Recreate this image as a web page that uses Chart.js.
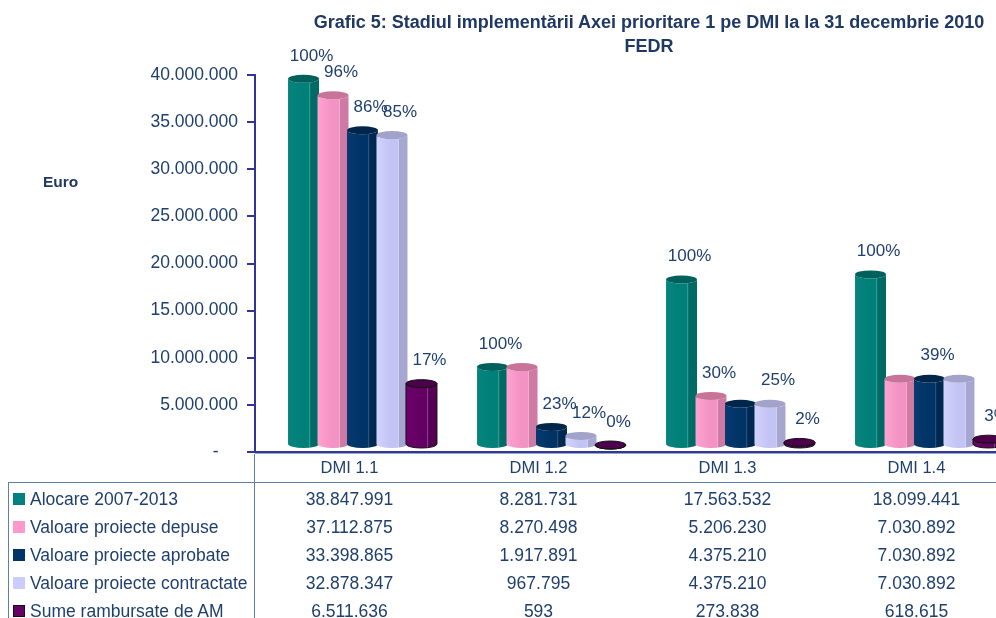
<!DOCTYPE html>
<html><head><meta charset="utf-8">
<script src="https://cdn.jsdelivr.net/npm/chart.js@4/dist/chart.umd.min.js"></script>
<style>
html,body{margin:0;padding:0;background:#fff;overflow:hidden;width:996px;height:618px;}
#wrap{position:relative;width:996px;height:618px;overflow:hidden;font-family:"Liberation Sans",Arial,sans-serif;color:#1f3f6f;}
canvas{position:absolute;left:0;top:0;}
.t{position:absolute;white-space:nowrap;}
.ln{position:absolute;background:#5f7fa6;}
</style></head><body><div id="wrap"><canvas id="c" width="1020" height="618"></canvas></div>
<script>
// ---- data ----
const categories = ['DMI 1.1', 'DMI 1.2', 'DMI 1.3', 'DMI 1.4'];
const seriesNames = ['Alocare 2007-2013', 'Valoare proiecte depuse', 'Valoare proiecte aprobate', 'Valoare proiecte contractate', 'Sume rambursate de AM'];
const alocare     = [38847991, 8281731, 17563532, 18099441];
const depuse      = [37112875, 8270498, 5206230, 7030892];
const aprobate    = [33398865, 1917891, 4375210, 7030892];
const contractate = [32878347, 967795, 4375210, 7030892];
const rambursate  = [6511636, 593, 273838, 618615];
// which percentage labels are shown on the picture
const shownAlocare     = [true, true, true, true];
const shownDepuse      = [true, false, true, false];
const shownAprobate    = [true, true, false, true];
const shownContractate = [true, true, true, false];
const shownRambursate  = [true, true, true, true];
const titleLine1 = 'Grafic 5: Stadiul implementării Axei prioritare 1 pe DMI la la 31 decembrie 2010';
const titleLine2 = 'FEDR';
const yAxisTitle = 'Euro';
const yMax = 40000000, yStep = 5000000;

const seriesValues = [alocare, depuse, aprobate, contractate, rambursate];
const seriesShown = [shownAlocare, shownDepuse, shownAprobate, shownContractate, shownRambursate];

// ---- styles ----
const TXT = '#1f3f6f';
const legendColors = ['#008080', '#ff99cc', '#003366', '#ccccff', '#660066'];
const cylStyles = [
  {left:'#07837d', mid:'#008078', right:'#006a65', hl:'#4aa9a4', top:'#00615c', stroke:null},
  {left:'#ffa2d2', mid:'#f293c3', right:'#cf7aa4', hl:'#ffc4e2', top:'#c87499', stroke:null},
  {left:'#073a6e', mid:'#003366', right:'#002952', hl:'#3a5f8a', top:'#00264c', stroke:null},
  {left:'#d2d2ff', mid:'#c4c4f4', right:'#a6a6d0', hl:'#e8e8ff', top:'#a2a2ca', stroke:null},
  {left:'#6c006c', mid:'#640064', right:'#540054', hl:'#9a4a9a', top:'#4c004c', stroke:'#111'}
];
const DX = 13, DY = -7, RY = 4;

function fmt(n){ return String(Math.round(n)).replace(/\B(?=(\d{3})+(?!\d))/g, '.'); }

function drawCyl(ctx, x, top, bottom, w, s){
  const rx = w/2;
  if (bottom < top) bottom = top;
  ctx.save();
  const g = ctx.createLinearGradient(x-rx, 0, x+rx, 0);
  g.addColorStop(0, s.left); g.addColorStop(0.45, s.mid); g.addColorStop(0.68, s.mid);
  g.addColorStop(0.70, s.hl); g.addColorStop(0.73, s.right); g.addColorStop(1, s.right);
  ctx.beginPath();
  ctx.moveTo(x-rx, top);
  ctx.lineTo(x-rx, bottom);
  ctx.ellipse(x, bottom, rx, RY, 0, Math.PI, 0, true);
  ctx.lineTo(x+rx, top);
  ctx.ellipse(x, top, rx, RY, 0, 0, Math.PI, false);
  ctx.closePath();
  ctx.fillStyle = g; ctx.fill();
  if (s.stroke){ ctx.strokeStyle = s.stroke; ctx.lineWidth = 1; ctx.stroke(); }
  // top cap
  ctx.beginPath();
  ctx.ellipse(x, top, rx, RY, 0, 0, Math.PI*2);
  ctx.fillStyle = s.top; ctx.fill();
  if (s.stroke){ ctx.strokeStyle = s.stroke; ctx.lineWidth = 1; ctx.stroke(); }
  ctx.restore();
}

const cylPlugin = {
  id: 'cyl',
  afterDatasetsDraw(chart){
    const ctx = chart.ctx, ca = chart.chartArea;
    // base line of the category axis
    ctx.save();
    ctx.fillStyle = '#2e3a92';
    ctx.fillRect(ca.left - 8, ca.bottom - 1, 1020, 2);
    ctx.fillStyle = '#9aa6d0';
    ctx.fillRect(ca.left, ca.bottom + 1, 1020, 1);
    ctx.restore();
    const nCat = categories.length;
    for (let j = 0; j < nCat; j++){
      for (let i = 0; i < chart.data.datasets.length; i++){
        const el = chart.getDatasetMeta(i).data[j];
        drawCyl(ctx, el.x + DX, el.y + DY, el.base + DY, el.width + 1.5, cylStyles[i]);
      }
    }
    ctx.save();
    ctx.font = '17px "Liberation Sans", Arial, sans-serif';
    ctx.fillStyle = TXT; ctx.textAlign = 'center'; ctx.textBaseline = 'middle';
    for (let i = 0; i < chart.data.datasets.length; i++){
      const meta = chart.getDatasetMeta(i);
      for (let j = 0; j < nCat; j++){
        if (!seriesShown[i][j]) continue;
        const el = meta.data[j];
        const pct = Math.round(seriesValues[i][j] / alocare[j] * 100) + '%';
        ctx.fillText(pct, el.x + DX + 8, el.y + DY - 23);
      }
    }
    ctx.restore();
  }
};

const chart = new Chart(document.getElementById('c'), {
  type: 'bar',
  data: {
    labels: categories,
    datasets: seriesValues.map((v, i) => ({
      label: seriesNames[i], data: v,
      backgroundColor: 'rgba(0,0,0,0)', borderWidth: 0,
      categoryPercentage: 0.78, barPercentage: 1.0
    }))
  },
  options: {
    responsive: false, animation: false, devicePixelRatio: 1,
    layout: { padding: { top: 75, left: 0, right: 9, bottom: 166 } },
    plugins: { legend: { display: false }, tooltip: { enabled: false }, title: { display: false } },
    scales: {
      x: { display: false },
      y: {
        min: 0, max: yMax,
        afterFit(s){ s.width = 255; },
        border: { display: true, color: '#333399', width: 2 },
        grid: { drawOnChartArea: false, drawTicks: true, tickLength: 8, color: '#333399', lineWidth: 2 },
        ticks: {
          stepSize: yStep, padding: 9, color: TXT,
          font: { family: '"Liberation Sans", Arial, sans-serif', size: 17.5 },
          callback: v => v === 0 ? '-    ' : fmt(v)
        }
      }
    }
  },
  plugins: [cylPlugin]
});

// ---- HTML texts: title, axis title, data table ----
const wrap = document.getElementById('wrap');
function addDiv(cls, css, text){
  const d = document.createElement('div'); d.className = cls; d.style.cssText = css;
  if (text !== undefined) d.textContent = text; wrap.appendChild(d); return d;
}
const t1 = addDiv('t', 'left:649px;top:10px;font-weight:bold;font-size:18px;line-height:24px;transform:translateX(-50%);color:#1f3864;', titleLine1);
addDiv('t', 'left:649px;top:34px;font-weight:bold;font-size:18px;line-height:24px;transform:translateX(-50%);color:#1f3864;', titleLine2);
addDiv('t', 'left:43px;top:173px;font-weight:bold;font-size:15.5px;line-height:18px;color:#1f3864;', yAxisTitle);

const ca = chart.chartArea, xs = chart.scales.x;
const colW = xs.getPixelForValue(1) - xs.getPixelForValue(0);
// table lines
addDiv('ln', 'left:8px;top:482px;width:990px;height:1px;');
addDiv('ln', 'left:' + (Math.round(ca.left) - 1) + 'px;top:' + Math.round(ca.bottom + 2) + 'px;width:1px;height:200px;');
addDiv('ln', 'left:8px;top:482px;width:1px;height:140px;');
// header row
categories.forEach((c, j) => {
  const cx = xs.getPixelForValue(j);
  addDiv('t', 'left:' + (cx - colW/2) + 'px;width:' + colW + 'px;text-align:center;top:456px;font-size:16.5px;line-height:22px;', c);
});
// data rows
seriesNames.forEach((name, i) => {
  const yc = 499 + 28 * i;
  addDiv('t', 'left:13px;top:' + (yc - 6) + 'px;width:12px;height:12px;box-sizing:border-box;background:' + legendColors[i] + (i === 4 ? ';border:1px solid #111' : '') + ';');
  addDiv('t', 'left:30px;top:' + (yc - 11) + 'px;font-size:17.5px;line-height:22px;', name);
  seriesValues[i].forEach((v, j) => {
    const cx = xs.getPixelForValue(j);
    addDiv('t', 'left:' + (cx - colW/2) + 'px;width:' + colW + 'px;text-align:center;top:' + (yc - 11) + 'px;font-size:17.5px;line-height:22px;', fmt(v));
  });
});
</script>
</body></html>
